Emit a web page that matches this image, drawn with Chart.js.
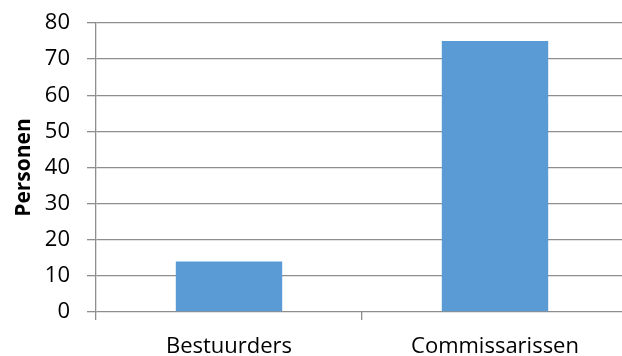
<!DOCTYPE html>
<html>
<head>
<meta charset="utf-8">
<script src="https://cdn.jsdelivr.net/npm/chart.js@4/dist/chart.umd.min.js"></script>
<style>
    html, body { margin: 0; padding: 0; overflow: hidden; background: #fff; }
    #wrap { width: 622px; height: 356px; overflow: hidden; }
</style>
</head>
<body>
<div id="wrap"><canvas id="chart" width="628" height="356"></canvas></div>
<script>
// Aantallen per functie
const categories = ['Bestuurders', 'Commissarissen'];
const personen = [14, 75];
const yTicks = [0, 10, 20, 30, 40, 50, 60, 70, 80];

const gridColor = '#8e8e8e';
const fontFamily = '"Open Sans", sans-serif';

const ctx = document.getElementById('chart');

new Chart(ctx, {
    type: 'bar',
    data: {
        labels: categories,
        datasets: [{
            data: personen,
            backgroundColor: '#5b9bd5',
            borderWidth: 0,
            barPercentage: 0.4,
            categoryPercentage: 1
        }]
    },
    options: {
        responsive: false,
        animation: false,
        layout: { padding: { top: 23, left: 0, right: 0, bottom: 0 } },
        plugins: {
            legend: { display: false },
            tooltip: { enabled: false }
        },
        scales: {
            x: {
                grid: {
                    offset: true,
                    drawOnChartArea: false,
                    drawTicks: true,
                    tickLength: 8,
                    lineWidth: 1.3,
                    color: gridColor
                },
                border: { display: false },
                ticks: {
                    color: '#000',
                    padding: 14,
                    font: { family: fontFamily, size: 22 }
                },
                afterFit(scale) { scale.height = 44; }
            },
            y: {
                min: 0,
                max: 80,
                afterBuildTicks(scale) {
                    scale.ticks = yTicks.map(v => ({ value: v }));
                },
                grid: {
                    color: gridColor,
                    lineWidth: 1.3,
                    tickLength: 9
                },
                border: { display: true, color: gridColor, width: 1.3 },
                ticks: {
                    color: '#000',
                    padding: 17,
                    font: { family: fontFamily, size: 22 }
                },
                title: {
                    display: true,
                    text: 'Personen',
                    color: '#000',
                    padding: { top: 11, bottom: 0 },
                    font: { family: fontFamily, size: 21, weight: 'bold' }
                },
                afterFit(scale) {
                    // vaste breedte, en geen extra ruimte boven/onder de as
                    scale.width = 96;
                    scale.paddingTop = 0;
                    scale.paddingBottom = 0;
                }
            }
        }
    }
});
</script>
</body>
</html>
